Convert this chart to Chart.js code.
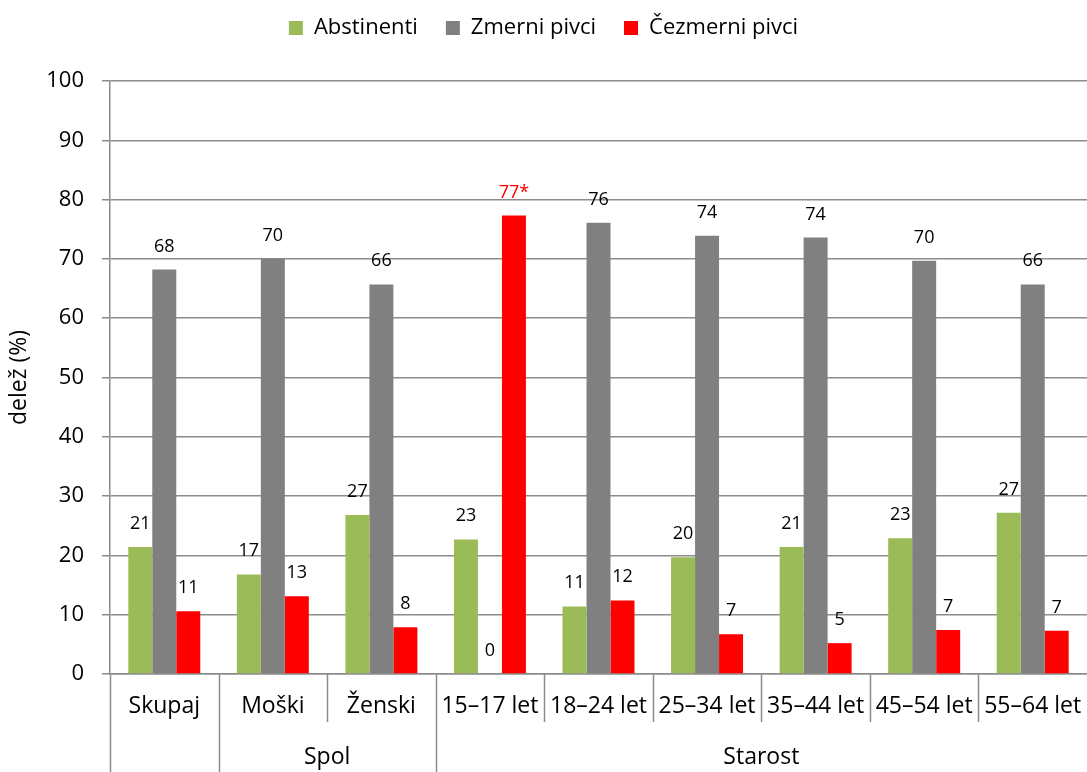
<!DOCTYPE html>
<html>
<head>
<meta charset="utf-8">
<script src="https://cdn.jsdelivr.net/npm/chart.js@4.4.0/dist/chart.umd.min.js"></script>
<style>
  html, body { margin: 0; padding: 0; background: #fff; }
  #chart_container { width: 1087px; height: 772px; }
</style>
</head>
<body>
<div id="chart_container"><canvas id="chart"></canvas></div>
<script>
// categories (first row of x axis) and their groups (second row)
var categories = ['Skupaj', 'Moški', 'Ženski', '15–17 let', '18–24 let', '25–34 let', '35–44 let', '45–54 let', '55–64 let'];
var groupLabels = ['', 'Spol', 'Starost'];
var groupSpans = [1, 2, 6];

// series values (%)
var abstinenti = [21.4, 16.8, 26.8, 22.7, 11.4, 19.7, 21.4, 22.9, 27.2];
var zmerniPivci = [68.2, 70.0, 65.7, 0, 76.1, 73.9, 73.6, 69.7, 65.7];
var cezmerniPivci = [10.6, 13.1, 7.9, 77.3, 12.4, 6.7, 5.2, 7.4, 7.3];
var cezmerniNotes = ['', '', '', '*', '', '', '', '', ''];

var FONT = "'Open Sans', 'DejaVu Sans', sans-serif";
var GRID = '#8c8c8c';

Chart.defaults.font.family = FONT;
Chart.defaults.color = '#000000';

// extra room between legend and plot
var legendSpacing = {
  id: 'legendSpacing',
  beforeInit: function(chart){
    var fit = chart.legend.fit;
    chart.legend.fit = function(){
      fit.bind(chart.legend)();
      this.height += 32;
    };
  }
};

// value labels above each bar
var barLabels = {
  id: 'barLabels',
  afterDatasetsDraw: function(chart){
    var ctx = chart.ctx;
    ctx.save();
    ctx.font = '18px ' + FONT;
    ctx.textAlign = 'center';
    ctx.textBaseline = 'alphabetic';
    chart.data.datasets.forEach(function(ds, i){
      var meta = chart.getDatasetMeta(i);
      meta.data.forEach(function(bar, j){
        var note = ds.notes ? ds.notes[j] : '';
        ctx.fillStyle = note ? '#ff0000' : '#000000';
        ctx.fillText(Math.round(ds.data[j]) + note, bar.x, bar.y - 18);
      });
    });
    ctx.restore();
  }
};

// category separators + group row under the x axis
var groupAxis = {
  id: 'groupAxis',
  afterDraw: function(chart){
    var xs = chart.scales.x, ctx = chart.ctx;
    var n = categories.length, w = xs.width / n;
    var groupStarts = [], s = 0;
    groupSpans.forEach(function(span){ groupStarts.push(s); s += span; });

    ctx.save();
    ctx.strokeStyle = GRID;
    ctx.lineWidth = 1.5;
    for(var i=0; i<n; i++){
      var bx = Math.round(xs.left + i*w) + 0.5;
      var end = groupStarts.indexOf(i) >= 0 ? chart.height : xs.top + 48;
      ctx.beginPath();
      ctx.moveTo(bx, xs.top);
      ctx.lineTo(bx, end);
      ctx.stroke();
    }

    ctx.font = '23px ' + FONT;
    ctx.fillStyle = '#000000';
    ctx.textAlign = 'center';
    ctx.textBaseline = 'middle';
    groupLabels.forEach(function(lbl, g){
      var cx = xs.left + (groupStarts[g] + groupSpans[g]/2) * w;
      ctx.fillText(lbl, cx, xs.top + 83);
    });
    ctx.restore();
  }
};

var ctx = document.getElementById('chart').getContext('2d');
var chart = new Chart(ctx, {
  type: 'bar',
  data: {
    labels: categories,
    datasets: [
      {label: 'Abstinenti', data: abstinenti, backgroundColor: '#9bbb59'},
      {label: 'Zmerni pivci', data: zmerniPivci, backgroundColor: '#808080'},
      {label: 'Čezmerni pivci', data: cezmerniPivci, backgroundColor: '#ff0000', notes: cezmerniNotes}
    ]
  },
  options: {
    responsive: true,
    maintainAspectRatio: false,
    animation: false,
    layout: { padding: { top: -11, right: 0, bottom: 0, left: 0 } },
    datasets: { bar: { barPercentage: 1.0, categoryPercentage: 0.663, borderWidth: 0 } },
    plugins: {
      legend: {
        position: 'top',
        labels: { boxWidth: 14, boxHeight: 14, font: { size: 22 }, padding: 28, color: '#000000' }
      },
      tooltip: { enabled: false }
    },
    scales: {
      x: {
        offset: true,
        grid: { display: false, drawTicks: false },
        border: { display: true, color: GRID, width: 1.5 },
        ticks: { font: { size: 23 }, padding: 19, maxRotation: 0, autoSkip: false },
        afterFit: function(scale){
          scale.height = 98;
          // plot runs to the right edge, the last label may be cut like in the original
          scale.paddingLeft = 0;
          scale.paddingRight = 0;
        }
      },
      y: {
        min: 0, max: 100,
        ticks: { stepSize: 10, font: { size: 22 }, padding: 18 },
        grid: { color: GRID, lineWidth: 1.5, tickLength: 8 },
        border: { display: true, color: GRID, width: 1.5 },
        title: { display: true, text: 'delež (%)', font: { size: 23 }, padding: { top: 6, bottom: 0 } },
        afterFit: function(scale){ scale.width = 110; }
      }
    }
  },
  plugins: [legendSpacing, barLabels, groupAxis]
});
</script>
</body>
</html>
